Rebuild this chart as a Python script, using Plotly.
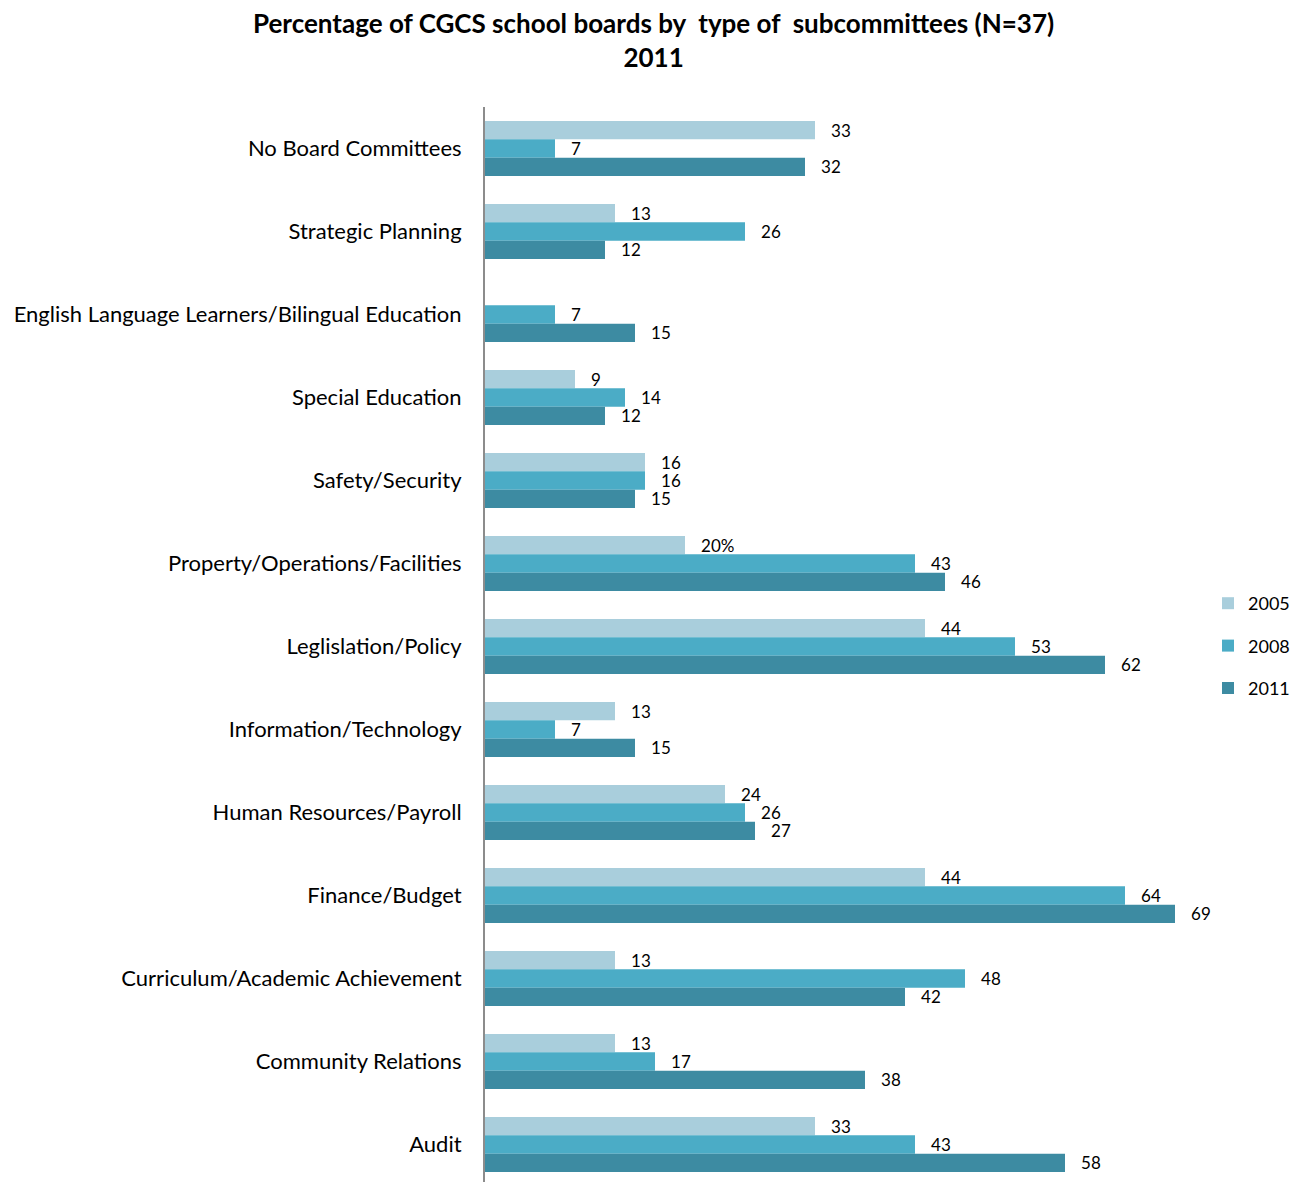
import plotly.graph_objects as go

categories = [
    "No Board Committees",
    "Strategic Planning",
    "English Language Learners/Bilingual Education",
    "Special Education",
    "Safety/Security",
    "Property/Operations/Facilities",
    "Leglislation/Policy",
    "Information/Technology",
    "Human Resources/Payroll",
    "Finance/Budget",
    "Curriculum/Academic Achievement",
    "Community Relations",
    "Audit",
]
values_2005 = [33, 13, None, 9, 16, 20, 44, 13, 24, 44, 13, 13, 33]
values_2008 = [7, 26, 7, 14, 16, 43, 53, 7, 26, 64, 48, 17, 43]
values_2011 = [32, 12, 15, 12, 15, 46, 62, 15, 27, 69, 42, 38, 58]
labels_2005 = ["33", "13", "", "9", "16", "20%", "44", "13", "24", "44", "13", "13", "33"]
series_names = ["2005", "2008", "2011"]
colors = ["#A9CEDC", "#4BACC6", "#3D8BA2"]


def lab(v):
    return "" if v is None else str(v)


series = [
    (values_2005, labels_2005),
    (values_2008, [lab(v) for v in values_2008]),
    (values_2011, [lab(v) for v in values_2011]),
]

fig = go.Figure()
for (vals, texts), name, col in zip(series, series_names, colors):
    fig.add_trace(go.Bar(
        y=categories, x=vals, name=name, orientation="h",
        marker=dict(color=col, line=dict(width=0)),
        text=["   " + t if t else "" for t in texts],
        textposition="outside", cliponaxis=False, constraintext="none",
        textfont=dict(size=17, color="#000000", family="Lato"),
        legendgroup=name,
    ))

fig.add_annotation(
    text="<b>Percentage of CGCS school boards by  type of  subcommittees (N=37)<br>2011</b>",
    xref="paper", yref="paper", x=(654 - 485) / 725, y=(1182 - 40) / 1075,
    xanchor="center", yanchor="middle", showarrow=False,
    font=dict(size=26, family="Lato", color="#000000"),
)

fig.update_layout(
    width=1299, height=1182,
    barmode="group", bargap=0.337, bargroupgap=0,
    plot_bgcolor="white", paper_bgcolor="white",
    margin=dict(l=485, r=89, t=107, b=0),
    font=dict(family="Lato", color="#000000"),
    xaxis=dict(range=[0, 72.3], visible=False, showgrid=False, zeroline=False),
    yaxis=dict(
        range=[12.452, -0.5], showgrid=False, zeroline=False,
        showline=True, linecolor="#8C8C8C", linewidth=2,
        ticks="", ticklabelstandoff=17,
        tickfont=dict(size=22, family="Lato", color="#000000"),
    ),
    legend=dict(
        xref="container", yref="container",
        x=1208 / 1299, xanchor="left", y=1 - 646 / 1182, yanchor="middle",
        traceorder="grouped", tracegroupgap=16,
        font=dict(size=18, family="Lato", color="#000000"),
        itemwidth=30,
    ),
)

fig.write_html("out.html")
